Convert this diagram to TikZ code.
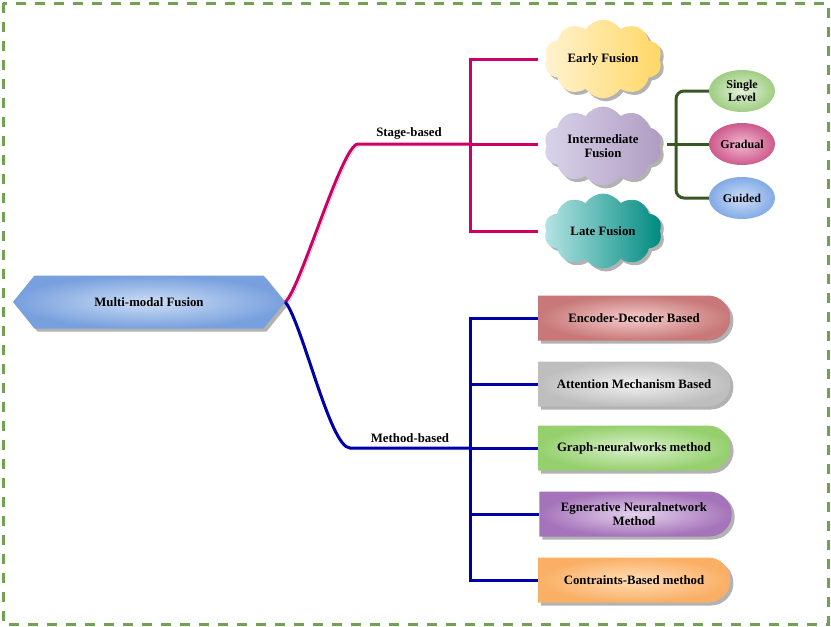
\documentclass[tikz,border=0pt]{standalone}
\usepackage{fontspec}
\setmainfont{Liberation Serif}
\usetikzlibrary{shapes.symbols,shapes.geometric,shapes.misc,shadows}

\definecolor{borderg}{RGB}{112,163,79}
\definecolor{stagec}{RGB}{204,0,102}
\definecolor{methodc}{RGB}{0,0,170}
\definecolor{bracec}{RGB}{56,87,35}
\definecolor{hexin}{RGB}{205,222,245}
\definecolor{hexout}{RGB}{120,160,222}
\definecolor{earlyl}{RGB}{255,243,208}
\definecolor{earlyr}{RGB}{255,215,100}
\definecolor{interl}{RGB}{216,211,233}
\definecolor{interr}{RGB}{176,156,194}
\definecolor{latel}{RGB}{180,228,228}
\definecolor{later}{RGB}{0,138,128}
\definecolor{singlein}{RGB}{225,242,215}
\definecolor{singleout}{RGB}{160,205,130}
\definecolor{gradin}{RGB}{242,185,208}
\definecolor{gradout}{RGB}{205,90,140}
\definecolor{guidin}{RGB}{205,222,247}
\definecolor{guidout}{RGB}{130,170,230}
\definecolor{encin}{RGB}{246,205,205}
\definecolor{encout}{RGB}{200,120,120}
\definecolor{attin}{RGB}{242,242,242}
\definecolor{attout}{RGB}{190,190,190}
\definecolor{graphin}{RGB}{218,242,205}
\definecolor{graphout}{RGB}{150,208,110}
\definecolor{genin}{RGB}{228,210,238}
\definecolor{genout}{RGB}{165,115,185}
\definecolor{conin}{RGB}{255,222,185}
\definecolor{conout}{RGB}{250,175,100}

\tikzset{
  txt/.style={font=\fontsize{12.8}{14}\selectfont\bfseries, text=black, align=center},
  shade/.style={drop shadow={shadow xshift=3pt, shadow yshift=-3pt, fill=gray!60, opacity=1}},
  hexbox/.style={txt, signal, signal to=west and east, signal pointer angle=102,
    minimum width=272pt, minimum height=53pt, shade,
    shading=radial, inner color=hexin, outer color=hexout},
  fusion/.style 2 args={txt, cloud, cloud puffs=10, cloud puff arc=115, aspect=1.6,
    minimum width=118pt, minimum height=75pt, inner sep=1pt, shade,
    left color=#1, right color=#2},
  level/.style 2 args={txt, font=\fontsize{12}{13.5}\selectfont\bfseries, ellipse,
    minimum width=66pt, minimum height=42pt, inner sep=0pt,
    shading=radial, inner color=#1, outer color=#2},
  method/.style 2 args={txt, rounded rectangle, rounded rectangle left arc=none,
    minimum width=199pt, minimum height=45pt, shade,
    shading=radial, inner color=#1, outer color=#2},
  lineshadow/.style={preaction={draw=gray!60, transform canvas={xshift=2pt, yshift=-2pt}}},
  stageline/.style={draw=stagec, line width=3pt},
  methodline/.style={draw=methodc, line width=3pt},
  braceline/.style={draw=bracec, line width=3pt},
}

\begin{document}
\begin{tikzpicture}[x=1pt, y=-1pt]
  \useasboundingbox (0,0) rectangle (831,627);
  \draw[borderg, line width=3pt, dash pattern=on 10pt off 9pt] (3,3) rectangle (828,624);

  % root
  \node[hexbox] (root) at (149,302) {Multi-modal Fusion};

  % stage-based branch
  \coordinate (stagej) at (470,144);
  \draw[stageline, lineshadow] (root.east) .. controls (300,290) and (342,144) .. (358,144) -- (stagej);
  \node[txt] (stagelbl) at (409,133) {Stage-based};

  \node[fusion={earlyl}{earlyr}] (early) at (603,59) {Early Fusion};
  \node[fusion={interl}{interr}] (inter) at (603,146) {Intermediate\\Fusion};
  \node[fusion={latel}{later}] (late) at (603,231) {Late Fusion};

  \draw[stageline] ([xshift=-8pt]early.west) -| (stagej) |- ([xshift=-8pt]late.west);
  \draw[stageline] (stagej) -- ([xshift=-8pt]inter.west |- stagej);

  % levels of intermediate fusion
  \node[level={singlein}{singleout}] (single) at (742,91) {Single\\Level};
  \node[level={gradin}{gradout}] (gradual) at (742,144) {Gradual};
  \node[level={guidin}{guidout}] (guided) at (742,198) {Guided};

  \coordinate (bracej) at (676,144);
  \coordinate (bracetip) at (667,144);
  \draw[braceline, rounded corners=8pt] (single.west) -| (bracej) |- (guided.west);
  \draw[braceline] (bracetip) -- (gradual.west);

  % method-based branch
  \coordinate (methj) at (470,448);
  \draw[methodline, lineshadow] (root.east) .. controls (302,322) and (330,448) .. (350,448) -- (methj);
  \node[txt] (methlbl) at (410,438) {Method-based};

  \node[method={encin}{encout}] (encdec) at (634,318) {Encoder-Decoder Based};
  \node[method={attin}{attout}] (attn) at (634,384) {Attention Mechanism Based};
  \node[method={graphin}{graphout}] (graph) at (634,448) {Graph-neuralworks method};
  \node[method={genin}{genout}] (gen) at (634,514) {Egnerative Neuralnetwork\\Method};
  \node[method={conin}{conout}] (constr) at (634,580) {Contraints-Based method};

  \draw[methodline] (encdec.west) -| (methj) |- (constr.west);
  \draw[methodline] (attn.west) -- (attn.west -| methj);
  \draw[methodline] (gen.west) -- (gen.west -| methj);
  \draw[methodline] (methj) -- (graph.west);
\end{tikzpicture}
\end{document}
